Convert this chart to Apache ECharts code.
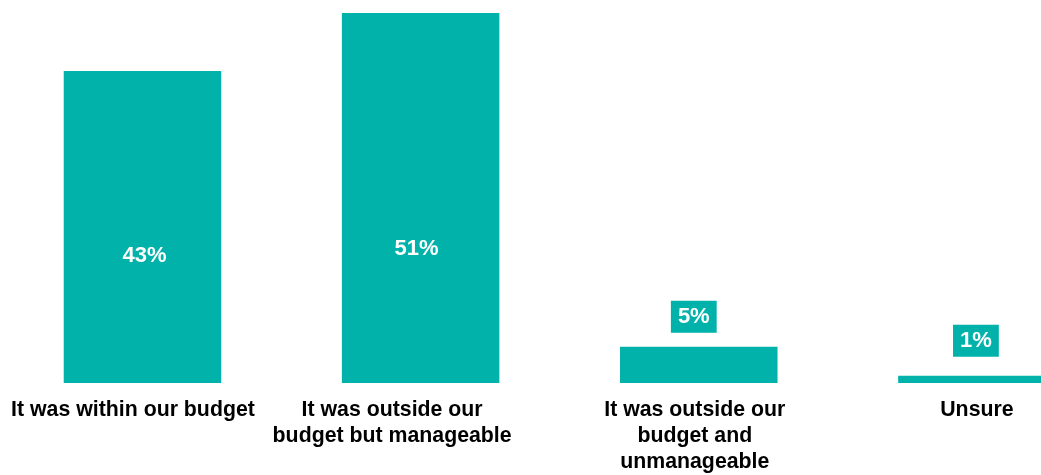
<!DOCTYPE html>
<html>
<head>
<meta charset="utf-8">
<script src="https://cdn.jsdelivr.net/npm/echarts@6/dist/echarts.min.js"></script>
<style>
  html, body { margin: 0; padding: 0; background: #ffffff; }
  #chart { width: 1041px; height: 475px; }
</style>
</head>
<body>
<div id="chart"></div>
<script>
// Answers and their share of respondents (%)
const categories = [
  'It was within our budget',
  'It was outside our\nbudget but manageable',
  'It was outside our\nbudget and\nunmanageable',
  'Unsure'
];
const shares = [43, 51, 5, 1];

const TEAL = '#00B2A9';
const FONT = '"Liberation Sans", Arial, sans-serif';

// Value label placement: large bars carry the value inside, small bars in a box above
const valueLabels = [
  { position: 'inside', offset: [2, 29] },
  { position: 'inside', offset: [-4, 51] },
  { position: 'top', distance: 14, offset: [-5, 0], backgroundColor: TEAL, padding: [5, 7, 5, 7] },
  { position: 'top', distance: 19, offset: [-1, 0], backgroundColor: TEAL, padding: [5, 7, 5, 7] }
];
// Horizontal nudges for the category captions
const captionPadding = [
  [0, 19, 0, 0],
  [0, 57, 0, 0],
  [0, 8, 0, 0],
  [0, 0, 0, 0]
];

const chart = echarts.init(document.getElementById('chart'), null, { renderer: 'canvas' });

// The plot area runs past the right edge, so the last bar is clipped by the canvas
chart.setOption({
  animation: false,
  backgroundColor: '#ffffff',
  grid: {
    left: 3.4, right: -75, top: 13, bottom: 92,
    containLabel: false,
    outerBoundsMode: 'none'
  },
  xAxis: {
    type: 'category',
    data: categories.map((c, i) => ({ value: c, textStyle: { padding: captionPadding[i] } })),
    axisLine: { show: false },
    axisTick: { show: false },
    axisLabel: {
      interval: 0,
      margin: 14,
      color: '#000000',
      fontFamily: FONT,
      fontWeight: 'bold',
      fontSize: 21.3,
      lineHeight: 26,
      align: 'center'
    }
  },
  yAxis: {
    type: 'value',
    min: 0,
    max: 51,
    show: false,
    splitLine: { show: false }
  },
  series: [{
    type: 'bar',
    barWidth: 157.5,
    itemStyle: { color: TEAL },
    label: {
      show: true,
      formatter: '{c}%',
      color: '#ffffff',
      fontFamily: FONT,
      fontWeight: 'bold',
      fontSize: 22,
      lineHeight: 22
    },
    data: shares.map((v, i) => ({ value: v, label: valueLabels[i] }))
  }]
});
</script>
</body>
</html>
